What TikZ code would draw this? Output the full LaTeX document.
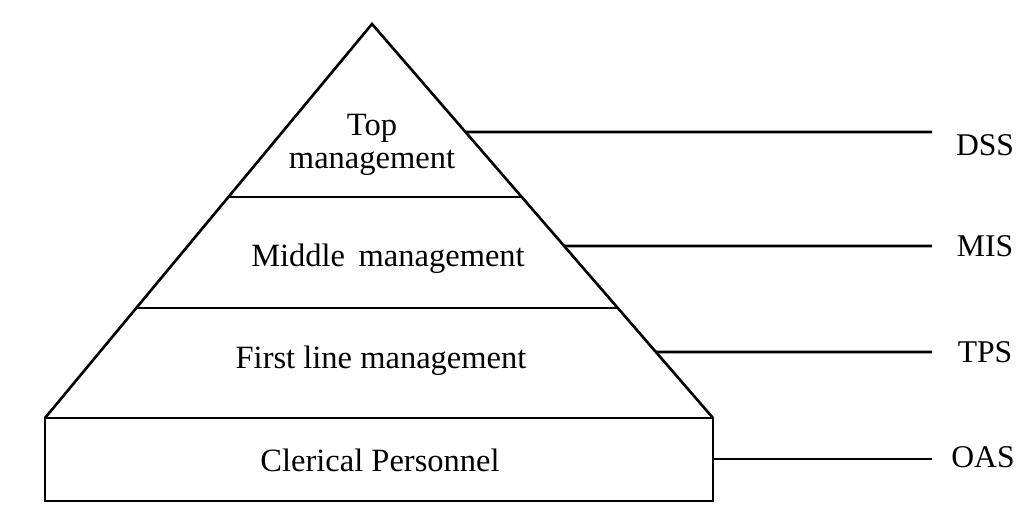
\documentclass[tikz,border=0pt]{standalone}
\usepackage{fontspec}
\setmainfont{Liberation Serif}
\usetikzlibrary{calc}
\begin{document}
\begin{tikzpicture}[x=0.02cm,y=-0.02cm,
  edge/.style={line width=1.5pt, line join=miter},
  lbl/.style={font=\fontsize{18.5}{22}\selectfont, inner sep=0pt, anchor=base},
  syslbl/.style={font=\fontsize{18}{22}\selectfont, inner sep=0pt, anchor=base},
]
\useasboundingbox[fill=white] (0,0) rectangle (1024,517);
% pyramid
\coordinate (apex) at (372,24);
\coordinate (bl) at (45,418);
\coordinate (br) at (713,418);
\coordinate (rb) at (713,501);
\draw[edge] (bl) -- (apex) -- (br);
\draw[edge] (bl) rectangle (rb);
% dividers
\coordinate (d1l) at ($(apex)!0.4391!(bl)$);
\coordinate (d1r) at ($(apex)!0.4391!(br)$);
\coordinate (d2l) at ($(apex)!0.7208!(bl)$);
\coordinate (d2r) at ($(apex)!0.7208!(br)$);
\draw[edge] (d1l) -- (d1r);
\draw[edge] (d2l) -- (d2r);
% level labels
\node[lbl] (top) at (372,135) {Top};
\node[lbl] (topm) at (372,168) {management};
\node[lbl] (mid) at (388,266) {Middle\, management};
\node[lbl] (first) at (381,368) {First line management};
\node[lbl] (cler) at (380,471) {Clerical Personnel};
% system connectors
\coordinate (dssa) at ($(apex)!0.2741!(br)$);
\coordinate (misa) at ($(apex)!0.5635!(br)$);
\coordinate (tpsa) at ($(apex)!0.8325!(br)$);
\coordinate (oasa) at (713,459);
\coordinate (dssb) at (932,132);
\coordinate (misb) at (932,246);
\coordinate (tpsb) at (932,352);
\coordinate (oasb) at (932,459);
\draw[edge] (dssa) -- (dssb);
\draw[edge] (misa) -- (misb);
\draw[edge] (tpsa) -- (tpsb);
\draw[edge] (oasa) -- (oasb);
\node[syslbl] (dss) at (985,155) {DSS};
\node[syslbl] (mis) at (985,256) {MIS};
\node[syslbl] (tps) at (985,362) {TPS};
\node[syslbl] (oas) at (983,467) {OAS};
\end{tikzpicture}
\end{document}
